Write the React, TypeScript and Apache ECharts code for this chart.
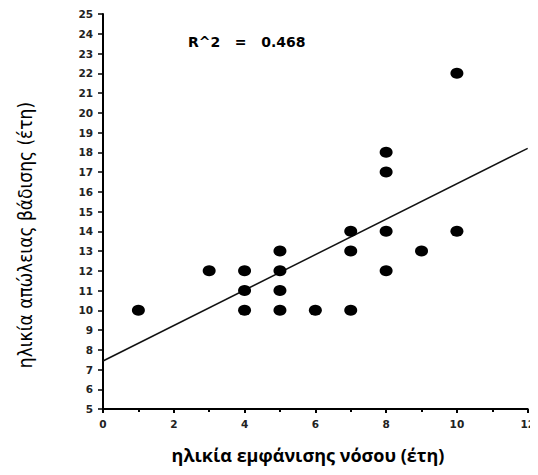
import React, { useEffect, useRef } from "react";
import * as echarts from "echarts";

const onsetAge = [1, 3, 4, 4, 4, 5, 5, 5, 5, 6, 7, 7, 7, 8, 8, 8, 8, 9, 10, 10];
const lossAge = [10, 12, 12, 11, 10, 13, 12, 11, 10, 10, 14, 13, 10, 18, 17, 14, 12, 13, 22, 14];
const fitX = [0, 12];
const fitY = [7.43, 18.2];
const r2Label = "R^2   =   0.468";
const xName = "ηλικία εμφάνισης νόσου (έτη)";
const yName = "ηλικία απώλειας βάδισης (έτη)";

export default function App() {
  const ref = useRef<HTMLDivElement>(null);
  useEffect(() => {
    const chart = echarts.init(ref.current!, null, { renderer: "svg" });
    const axisLabel = {
      color: "#222",
      fontFamily: "'DejaVu Sans', sans-serif",
      fontWeight: "bold" as const,
      fontSize: 10.5,
    };
    chart.setOption({
      animation: false,
      backgroundColor: "#fff",
      grid: { left: 103, top: 14, right: 5, bottom: 66, containLabel: false },
      xAxis: {
        type: "value",
        min: 0,
        max: 12,
        interval: 2,
        axisLine: { show: true, onZero: false, lineStyle: { color: "#000", width: 2 } },
        axisTick: { show: true, length: 4, lineStyle: { color: "#000", width: 2 } },
        minorTick: { show: true, splitNumber: 2, length: 3, lineStyle: { color: "#000", width: 2 } },
        splitLine: { show: false },
        axisLabel: { ...axisLabel, margin: 9 },
      },
      yAxis: {
        type: "value",
        min: 5,
        max: 25,
        interval: 1,
        axisLine: { show: true, onZero: false, lineStyle: { color: "#000", width: 2 } },
        axisTick: { show: true, length: 5, lineStyle: { color: "#000", width: 1.5 } },
        splitLine: { show: false },
        axisLabel: { ...axisLabel, margin: 10 },
      },
      series: [
        {
          type: "line",
          data: fitX.map((x, i) => [x, fitY[i]]),
          showSymbol: false,
          symbol: "none",
          lineStyle: { color: "#111", width: 1.5 },
          z: 1,
        },
        {
          type: "scatter",
          data: onsetAge.map((x, i) => [x, lossAge[i]]),
          symbol: "circle",
          symbolSize: [13, 11],
          itemStyle: { color: "#000", opacity: 1 },
          z: 2,
        },
      ],
      graphic: [
        {
          type: "text",
          x: 188,
          y: 42,
          style: {
            text: r2Label,
            fill: "#000",
            font: "bold 14px 'DejaVu Sans', sans-serif",
            align: "left",
            verticalAlign: "middle",
          },
        },
        {
          type: "text",
          x: 308,
          y: 455,
          style: {
            text: xName,
            fill: "#000",
            font: "bold 18px 'Open Sans', sans-serif",
            align: "center",
            verticalAlign: "middle",
          },
        },
        {
          type: "text",
          x: 25,
          y: 235,
          rotation: Math.PI / 2,
          style: {
            text: yName,
            fill: "#000",
            font: "19px 'Liberation Sans Narrow', 'DejaVu Sans Condensed', sans-serif",
            align: "center",
            verticalAlign: "middle",
          },
        },
      ],
    });
    return () => chart.dispose();
  }, []);
  return <div ref={ref} style={{ width: 538, height: 475, margin: -8 }} />;
}
